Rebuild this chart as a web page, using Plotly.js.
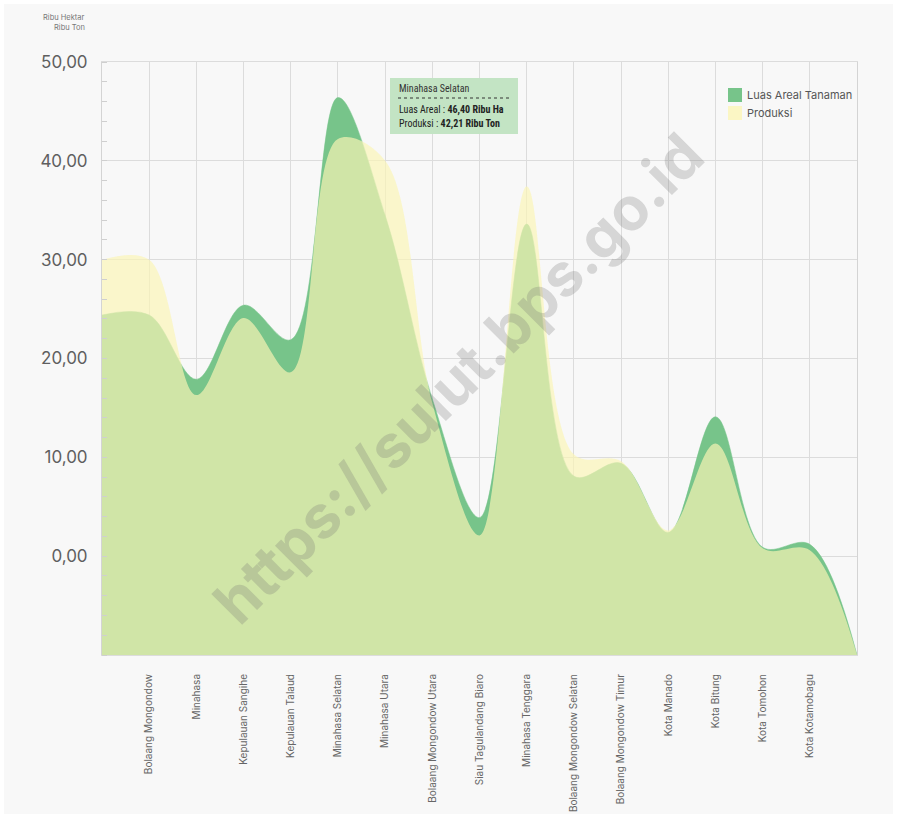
<!DOCTYPE html>
<html><head><meta charset="utf-8">
<script src="https://cdn.plot.ly/plotly-3.0.1.min.js"></script>
<style>html,body{margin:0;padding:0;background:#fff}#chart{width:897px;height:818px}</style>
</head><body><div id="chart"></div>
<script>
const categories = ["Bolaang Mongondow","Minahasa","Kepulauan Sangihe","Kepulauan Talaud","Minahasa Selatan","Minahasa Utara","Bolaang Mongondow Utara","Siau Tagulandang Biaro","Minahasa Tenggara","Bolaang Mongondow Selatan","Bolaang Mongondow Timur","Kota Manado","Kota Bitung","Kota Tomohon","Kota Kotamobagu"];
const luasAreal = [24.4, 17.9, 25.4, 21.9, 46.40, 34.5, 15.9, 3.9, 33.6, 8.1, 9.4, 2.4, 14.1, 0.9, 1.2];
const produksi  = [30.0, 16.3, 24.1, 18.6, 42.21, 40.0, 15.5, 2.1, 37.4, 10.3, 9.6, 2.6, 11.4, 0.8, 0.6];
const yTickVals = [0, 10, 20, 30, 40, 50];
const yMin = -10, yMax = 50;
const seriesNames = ["Luas Areal Tanaman", "Produksi"];
const tooltipTitle = "Minahasa Selatan";
const tooltipLines = ["Luas Areal : <b>46,40 Ribu Ha</b>", "Produksi : <b>42,21 Ribu Ton</b>"];
const unitLines = ["Ribu Hektar", "Ribu Ton"];
const watermark = "https://sulut.bps.go.id";

const GREEN = "#77c48a";
const YELLOW = "rgba(251,245,182,0.68)";
const YELLOW_SW = "#fbf6c4";

// x positions: one padding slot before and after the categories
const idx = categories.map((c, i) => i);
const xs = [-1, ...idx, categories.length];
const extend = arr => [arr[0], ...arr, yMin];
const baseline = xs.map(() => yMin);

// plot area pixel helpers (layout only)
const W = 897, H = 818, L = 102, R = 40, T = 62, B = 163;
const pw = W - L - R, ph = H - T - B;
const px = x => (x - L) / pw;
const py = y => (H - B - y) / ph;

const lineSpline = {shape: "spline", smoothing: 1};
const traces = [
  {x: xs, y: baseline, mode: "lines", line: {width: 0}, hoverinfo: "skip", showlegend: false},
  {x: xs, y: extend(luasAreal), name: seriesNames[0], mode: "lines", fill: "tonexty", fillcolor: GREEN,
   line: Object.assign({color: GREEN, width: 0.5}, lineSpline), showlegend: false},
  {x: xs, y: baseline, mode: "lines", line: {width: 0}, hoverinfo: "skip", showlegend: false},
  {x: xs, y: extend(produksi), name: seriesNames[1], mode: "lines", fill: "tonexty", fillcolor: YELLOW,
   line: Object.assign({color: "rgba(0,0,0,0)", width: 0}, lineSpline), showlegend: false}
];

const FONT = "Inter, 'Open Sans', sans-serif";
const NARROW = "'Liberation Sans Narrow', 'Roboto Condensed', 'Open Sans', sans-serif";

const shapes = [
  {type: "rect", xref: "paper", yref: "paper", x0: px(4), x1: px(893), y0: py(4), y1: py(814),
   fillcolor: "#f8f8f8", line: {width: 0}, layer: "below"},
  // tooltip box
  {type: "rect", xref: "paper", yref: "paper", x0: px(390), x1: px(518), y0: py(134), y1: py(78),
   fillcolor: "#c3e4c4", line: {width: 0}, layer: "above"},
  {type: "line", xref: "paper", yref: "paper", x0: px(398), x1: px(512), y0: py(98), y1: py(98),
   line: {color: "#333", width: 1, dash: "dot"}, layer: "above"},
  // legend swatches
  {type: "rect", xref: "paper", yref: "paper", x0: px(728), x1: px(742), y0: py(102), y1: py(88),
   fillcolor: GREEN, line: {width: 0}},
  {type: "rect", xref: "paper", yref: "paper", x0: px(728), x1: px(742), y0: py(120), y1: py(106),
   fillcolor: YELLOW_SW, line: {width: 0}}
];

const annotations = [
  {xref: "paper", yref: "paper", x: px(458), y: py(378), text: "<b>" + watermark + "</b>", showarrow: false,
   textangle: -45, font: {family: FONT, size: 60, color: "rgba(110,110,110,0.25)"}},
  {xref: "paper", yref: "paper", x: px(87), y: py(18), xanchor: "right", yanchor: "middle", text: unitLines[0],
   showarrow: false, font: {family: FONT, size: 7.5, color: "#777"}},
  {xref: "paper", yref: "paper", x: px(87), y: py(28), xanchor: "right", yanchor: "middle", text: unitLines[1],
   showarrow: false, font: {family: FONT, size: 7.5, color: "#777"}},
  {xref: "paper", yref: "paper", x: px(397), y: py(88), xanchor: "left", yanchor: "middle", text: tooltipTitle,
   showarrow: false, font: {family: NARROW, size: 10, color: "#333"}},
  {xref: "paper", yref: "paper", x: px(397), y: py(110), xanchor: "left", yanchor: "middle", text: tooltipLines[0],
   showarrow: false, font: {family: NARROW, size: 10, color: "#222"}},
  {xref: "paper", yref: "paper", x: px(397), y: py(124), xanchor: "left", yanchor: "middle", text: tooltipLines[1],
   showarrow: false, font: {family: NARROW, size: 10, color: "#222"}},
  {xref: "paper", yref: "paper", x: px(745), y: py(95), xanchor: "left", yanchor: "middle", text: seriesNames[0],
   showarrow: false, font: {family: FONT, size: 11, color: "#555"}},
  {xref: "paper", yref: "paper", x: px(745), y: py(113), xanchor: "left", yanchor: "middle", text: seriesNames[1],
   showarrow: false, font: {family: FONT, size: 11, color: "#555"}}
];

const layout = {
  width: W, height: H,
  margin: {l: L, r: R, t: T, b: B, autoexpand: false},
  paper_bgcolor: "#ffffff", plot_bgcolor: "#f8f8f8",
  separators: ",.",
  font: {family: FONT, color: "#555"},
  showlegend: false,
  hovermode: false,
  xaxis: {
    range: [-1, categories.length], tickmode: "array", tickvals: idx, ticktext: categories,
    tickangle: -90, ticks: "outside", ticklen: 14, tickcolor: "rgba(0,0,0,0)",
    tickfont: {family: FONT, size: 10, color: "#666"},
    showgrid: true, gridcolor: "#dcdcdc", gridwidth: 1,
    showline: true, linecolor: "#dcdcdc", linewidth: 1, mirror: true, zeroline: false, fixedrange: true
  },
  yaxis: {
    range: [yMin, yMax], tickmode: "array", tickvals: yTickVals, tickformat: ".2f",
    ticks: "outside", ticklen: 10, tickcolor: "rgba(0,0,0,0)",
    tickfont: {family: FONT, size: 17, color: "#5f5f5f"},
    showgrid: true, gridcolor: "#dcdcdc", gridwidth: 1,
    showline: true, linecolor: "#d4d4d4", linewidth: 1, mirror: true, zeroline: false, fixedrange: true,
    minor: {tickmode: "linear", tick0: 0, dtick: 2, ticks: "inside", ticklen: 5, tickcolor: "#cfcfcf", showgrid: false}
  },
  shapes: shapes,
  annotations: annotations
};

Plotly.newPlot("chart", traces, layout, {displayModeBar: false, staticPlot: true});
</script>
</body></html>
